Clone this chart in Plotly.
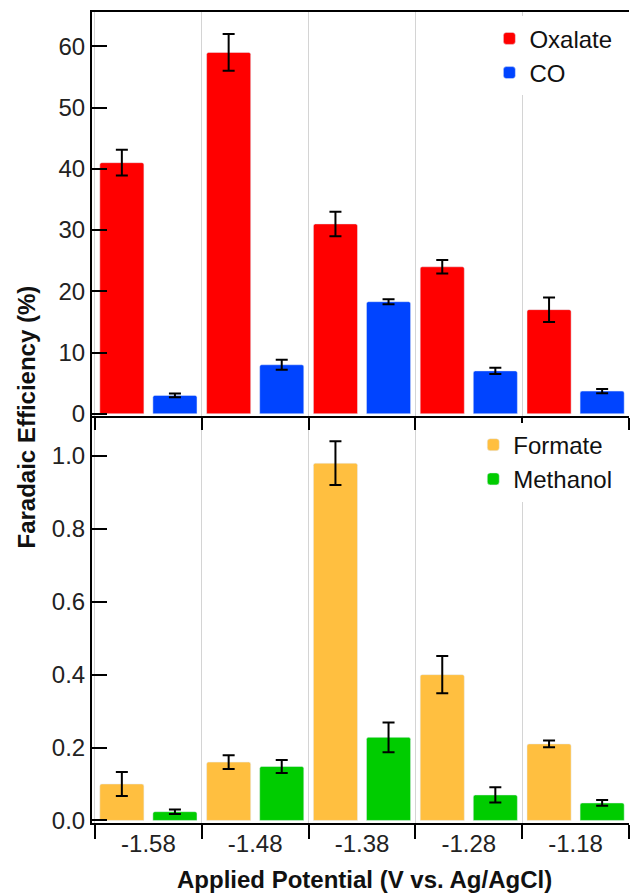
import plotly.graph_objects as go

# ---- data ----
potentials = ["-1.58", "-1.48", "-1.38", "-1.28", "-1.18"]

oxalate = [41.0, 59.0, 31.0, 24.0, 17.0]
oxalate_err = [2.1, 3.0, 2.0, 1.1, 2.0]
co = [3.0, 8.0, 18.3, 7.0, 3.7]
co_err = [0.3, 0.8, 0.4, 0.5, 0.35]

formate = [0.10, 0.16, 0.98, 0.40, 0.21]
formate_err = [0.033, 0.019, 0.06, 0.051, 0.009]
methanol = [0.024, 0.148, 0.228, 0.07, 0.048]
methanol_err = [0.006, 0.018, 0.041, 0.021, 0.008]

y_top_ticks = [0, 10, 20, 30, 40, 50, 60]
y_bot_ticks = [0.0, 0.2, 0.4, 0.6, 0.8, 1.0]

# ---- styling ----
FONT = "Liberation Sans, Arial, sans-serif"
C_OX, C_CO, C_FO, C_ME = "#FF0000", "#0044FF", "#FFBF40", "#00CC00"
BW = 0.413
OFF_L, OFF_R = -0.455, 0.042

xpos = list(range(len(potentials)))

def err(vals):
    return dict(type="data", array=vals, visible=True, color="black", thickness=2, width=6)

fig = go.Figure()
fig.add_trace(go.Bar(x=xpos, y=oxalate, name="Oxalate", marker=dict(color=C_OX, cornerradius=2),
                     width=BW, offset=OFF_L, error_y=err(oxalate_err), xaxis="x2", yaxis="y2", legend="legend"))
fig.add_trace(go.Bar(x=xpos, y=co, name="CO", marker=dict(color=C_CO, cornerradius=2),
                     width=BW, offset=OFF_R, error_y=err(co_err), xaxis="x2", yaxis="y2", legend="legend"))
fig.add_trace(go.Bar(x=xpos, y=formate, name="Formate", marker=dict(color=C_FO, cornerradius=2),
                     width=BW, offset=OFF_L, error_y=err(formate_err), xaxis="x", yaxis="y", legend="legend2"))
fig.add_trace(go.Bar(x=xpos, y=methanol, name="Methanol", marker=dict(color=C_ME, cornerradius=2),
                     width=BW, offset=OFF_R, error_y=err(methanol_err), xaxis="x", yaxis="y", legend="legend2"))

split = 0.5016
xrange = [-0.528, 4.5]
minor_grid = dict(tick0=-0.5, dtick=1, ticks="outside", tickwidth=2, tickcolor="black",
                  showgrid=True, gridcolor="#d4d4d4", gridwidth=1)

fig.update_layout(
    width=630, height=895,
    margin=dict(l=92, r=1, t=12, b=72, autoexpand=False),
    paper_bgcolor="white", plot_bgcolor="white",
    font=dict(family=FONT, size=23, color="black"),
    showlegend=True,
    xaxis=dict(domain=[0, 1], anchor="y", range=xrange, tickmode="array", tickvals=xpos,
               ticktext=potentials, ticks="", showgrid=False, zeroline=False,
               showline=True, linecolor="black", linewidth=2,
               tickfont=dict(size=24, color="#222"), ticklabelstandoff=-2,
               minor=dict(ticklen=14, **minor_grid)),
    yaxis=dict(domain=[0, split], anchor="x", range=[-0.007, 1.109], tickmode="array",
               tickvals=y_bot_ticks, ticktext=[f"{v:.1f}" for v in y_bot_ticks],
               ticks="inside", ticklen=15, tickwidth=2, tickcolor="black",
               showline=True, linecolor="black", linewidth=2, showgrid=False, zeroline=False,
               tickfont=dict(size=24, color="#222")),
    xaxis2=dict(domain=[0, 1], anchor="y2", range=xrange, tickmode="array", tickvals=xpos,
                showticklabels=False, ticks="", showgrid=False, zeroline=False,
                showline=True, linecolor="black", linewidth=2, mirror=True,
                minor=dict(ticklen=12, **minor_grid)),
    yaxis2=dict(domain=[split, 1], anchor="x2", range=[-0.4, 65.6], tickmode="array",
                tickvals=y_top_ticks, ticks="inside", ticklen=15, tickwidth=2, tickcolor="black",
                showline=True, linecolor="black", linewidth=2, showgrid=False, zeroline=False,
                tickfont=dict(size=24, color="#222")),
    legend=dict(x=0.74, y=0.946, xanchor="left", yanchor="middle", bgcolor="white",
                font=dict(size=24, color="#111"), tracegroupgap=0),
    legend2=dict(x=0.71, y=0.445, xanchor="left", yanchor="middle", bgcolor="white",
                 font=dict(size=24, color="#111"), tracegroupgap=0),
)

fig.add_annotation(text="<b>Applied Potential (V vs. Ag/AgCl)</b>",
                   xref="paper", yref="paper", x=0.5, y=-0.0884, xanchor="center", yanchor="bottom",
                   xshift=4, showarrow=False, font=dict(size=24, color="#111"))
fig.add_annotation(text="<b>Faradaic Efficiency (%)</b>", textangle=-90,
                   xref="paper", yref="paper", x=0, y=0.5, xanchor="center", yanchor="middle",
                   xshift=-66, showarrow=False, font=dict(size=24, color="#111"))

fig.write_html("out.html", config={"displayModeBar": False},
               post_script="document.body.style.margin='0';document.body.style.padding='0';")
